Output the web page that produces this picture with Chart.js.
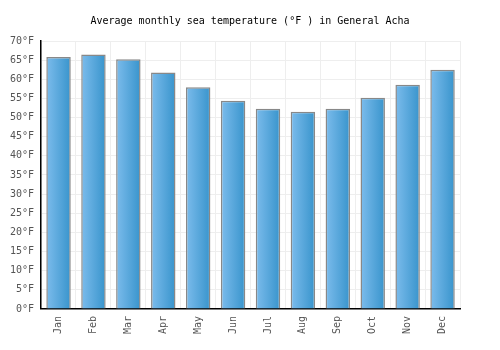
<!DOCTYPE html>
<html>
<head>
<meta charset="utf-8">
<script src="https://cdn.jsdelivr.net/npm/chart.js@4/dist/chart.umd.min.js"></script>
<style>
  body { margin: 0; background: #fff; }
  #wrap { width: 500px; height: 350px; }
</style>
</head>
<body>
<div id="wrap"><canvas id="chart"></canvas></div>
<script>
const months = ['Jan','Feb','Mar','Apr','May','Jun','Jul','Aug','Sep','Oct','Nov','Dec']
const seaTemp = [65.8, 66.5, 65.2, 61.8, 57.9, 54.4, 52.3, 51.5, 52.3, 55.2, 58.6, 62.5]
const yTicks = [0, 5, 10, 15, 20, 25, 30, 35, 40, 45, 50, 55, 60, 65, 70]

const barPct = 0.7
const mono = "'DejaVu Sans Mono', monospace"

function barGradient(c) {
  const chart = c.chart
  if (!chart.chartArea) return '#4aa0dc'
  const xs = chart.scales.x
  const cx = xs.getPixelForValue(c.dataIndex)
  const w = xs.width / months.length * barPct
  const g = chart.ctx.createLinearGradient(cx - w / 2, 0, cx + w / 2, 0)
  g.addColorStop(0, '#7cbcec')
  g.addColorStop(1, '#3894cc')
  return g
}

new Chart(document.getElementById('chart'), {
  type: 'bar',
  data: {
    labels: months,
    datasets: [{
      data: seaTemp,
      backgroundColor: barGradient,
      borderColor: '#888888',
      borderWidth: 1.5,
      barPercentage: barPct,
      categoryPercentage: 1
    }]
  },
  options: {
    responsive: true,
    maintainAspectRatio: false,
    animation: false,
    layout: { padding: { left: 3, right: 3, top: 0, bottom: 9 } },
    plugins: {
      legend: { display: false },
      tooltip: { enabled: false },
      title: {
        display: true,
        text: 'Average monthly sea temperature (°F ) in General Acha',
        color: '#000',
        font: { family: mono, size: 10, weight: 'normal' },
        padding: { top: 15, bottom: 14 }
      }
    },
    scales: {
      x: {
        grid: { color: '#eeeeee', offset: true, drawTicks: false },
        border: { color: '#000', width: 1.5 },
        ticks: {
          color: '#555',
          font: { family: mono, size: 10 },
          maxRotation: 90,
          minRotation: 90,
          padding: 7
        }
      },
      y: {
        min: 0,
        max: 70,
        afterBuildTicks: axis => { axis.ticks = yTicks.map(v => ({ value: v })) },
        grid: { color: '#eeeeee', drawTicks: false },
        border: { color: '#000', width: 1.5 },
        ticks: {
          color: '#555',
          font: { family: mono, size: 10 },
          padding: 7,
          callback: v => v + '°F'
        }
      },
      // empty right-hand gutter so the title centres on the whole canvas
      yRight: {
        position: 'right',
        grid: { display: false },
        border: { display: false },
        ticks: { display: false },
        afterFit: axis => { axis.width = 37 }
      }
    }
  }
})
</script>
</body>
</html>
